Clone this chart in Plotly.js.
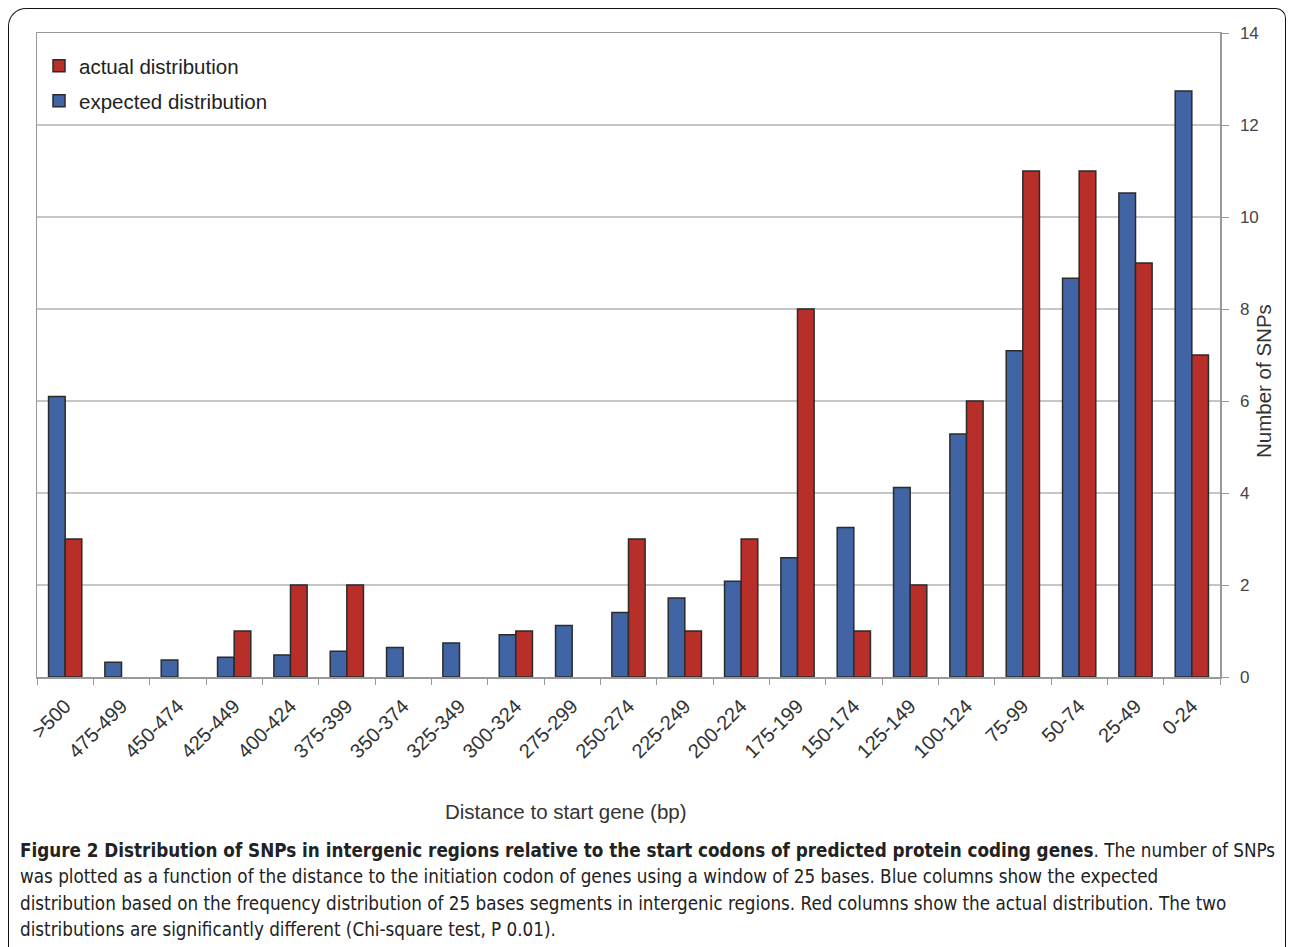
<!DOCTYPE html>
<html>
<head>
<meta charset="utf-8">
<script src="https://cdn.plot.ly/plotly-3.0.1.min.js"></script>
<style>
  html, body { margin: 0; padding: 0; background: #ffffff; }
  #wrap { position: relative; width: 1290px; height: 947px; overflow: hidden; }
  #frame { position: absolute; left: 8px; top: 8px; width: 1276px; height: 1000px;
           border-top: 1px solid #111; border-left: 1px solid #111; border-right: 1px solid #111;
           border-top-left-radius: 18px; border-top-right-radius: 10px;
           pointer-events: none; z-index: 5; }
  #chart { position: absolute; left: 0; top: 0; width: 1290px; height: 947px; }
</style>
</head>
<body>
<div id="wrap">
  <div id="chart"></div>
  <div id="frame"></div>
</div>
<script>
// ---- data ----
const categories = [">500","475-499","450-474","425-449","400-424","375-399","350-374","325-349",
  "300-324","275-299","250-274","225-249","200-224","175-199","150-174","125-149","100-124",
  "75-99","50-74","25-49","0-24"];
const expected = [6.1,0.32,0.37,0.43,0.48,0.56,0.64,0.74,0.92,1.12,1.40,1.72,2.08,2.59,3.25,4.12,5.28,7.09,8.67,10.52,12.74];
const actual   = [3,0,0,1,2,2,0,0,1,0,3,1,3,8,1,2,6,11,11,9,7];
const yTicks = [0,2,4,6,8,10,12,14];
const seriesNames = ["expected distribution","actual distribution"];
const xTitle = "Distance to start gene (bp)";
const yTitle = "Number of SNPs";
const captionLines = [
  "<b>Figure 2 Distribution of SNPs in intergenic regions relative to the start codons of predicted protein coding genes</b>. The number of SNPs",
  "was plotted as a function of the distance to the initiation codon of genes using a window of 25 bases. Blue columns show the expected",
  "distribution based on the frequency distribution of 25 bases segments in intergenic regions. Red columns show the actual distribution. The two",
  "distributions are significantly different (Chi-square test, P 0.01)."
];

// ---- geometry ----
const W = 1290, H = 947;
const L = 37, R = 1220, T = 33, B = 677;
const px = x => (x - L) / (R - L);
const py = y => (B - y) / (B - T);

const FONT = "Liberation Sans, Arial, sans-serif";
const CAPFONT = "Liberation Sans Narrow, DejaVu Sans Condensed, Liberation Sans, sans-serif";
const OUTLINE = "#2b2b2b";

const traces = [
  { type: "bar", name: seriesNames[0], x: categories, y: expected, legend: "legend2",
    marker: { color: "#4164a4", line: { color: OUTLINE, width: expected.map(v => v > 0 ? 1.5 : 0) } }, hoverinfo: "skip" },
  { type: "bar", name: seriesNames[1], x: categories, y: actual, legend: "legend",
    marker: { color: "#b82f2a", line: { color: OUTLINE, width: actual.map(v => v > 0 ? 1.5 : 0) } }, hoverinfo: "skip" }
];

const annotations = [
  { text: xTitle, xref: "paper", yref: "paper", x: px(566), y: py(811), xanchor: "center", yanchor: "middle",
    showarrow: false, font: { family: FONT, size: 20.5, color: "#333" } },
  { text: yTitle, xref: "paper", yref: "paper", x: px(1263), y: py(381), xanchor: "center", yanchor: "middle",
    textangle: -90, showarrow: false, font: { family: FONT, size: 20.5, color: "#333" } }
];
const capY = [850, 876, 903, 929];
captionLines.forEach((t, i) => {
  annotations.push({ text: t, xref: "paper", yref: "paper", x: px(18), y: py(capY[i]),
    xanchor: "left", yanchor: "middle", showarrow: false, align: "left",
    font: { family: CAPFONT, size: 18.7, color: "#222" } });
});

const legendBase = { xanchor: "left", yanchor: "middle", bgcolor: "rgba(0,0,0,0)",
  font: { family: FONT, size: 20.5, color: "#222" }, itemwidth: 30 };

const layout = {
  width: W, height: H,
  margin: { l: L, r: W - R, t: T, b: H - B, pad: 0 },
  paper_bgcolor: "#ffffff", plot_bgcolor: "#ffffff",
  barmode: "group", bargap: 0.41, bargroupgap: 0,
  showlegend: true,
  legend: Object.assign({}, legendBase, { x: px(39), y: py(66) }),
  legend2: Object.assign({}, legendBase, { x: px(39), y: py(101) }),
  xaxis: { type: "category", showgrid: false, showline: true, linecolor: "#999", linewidth: 1.5, mirror: true,
    ticks: "outside", tickson: "boundaries", ticklen: 6, tickcolor: "#999", tickwidth: 1,
    tickangle: -45, ticklabelstandoff: 8,
    tickfont: { family: FONT, size: 20, color: "#333" }, fixedrange: true },
  yaxis: { side: "right", range: [0, 14], tickvals: yTicks, ticktext: yTicks.map(String),
    showgrid: true, gridcolor: "#c6c6c6", gridwidth: 1.5, zeroline: false,
    showline: true, linecolor: "#999", linewidth: 1.5, mirror: true,
    ticks: "outside", ticklen: 7, tickcolor: "#999", tickwidth: 1, ticklabelstandoff: 8,
    tickfont: { family: FONT, size: 17, color: "#444" }, fixedrange: true },
  annotations: annotations
};

Plotly.newPlot("chart", traces, layout, { displayModeBar: false, staticPlot: true });
</script>
</body>
</html>
